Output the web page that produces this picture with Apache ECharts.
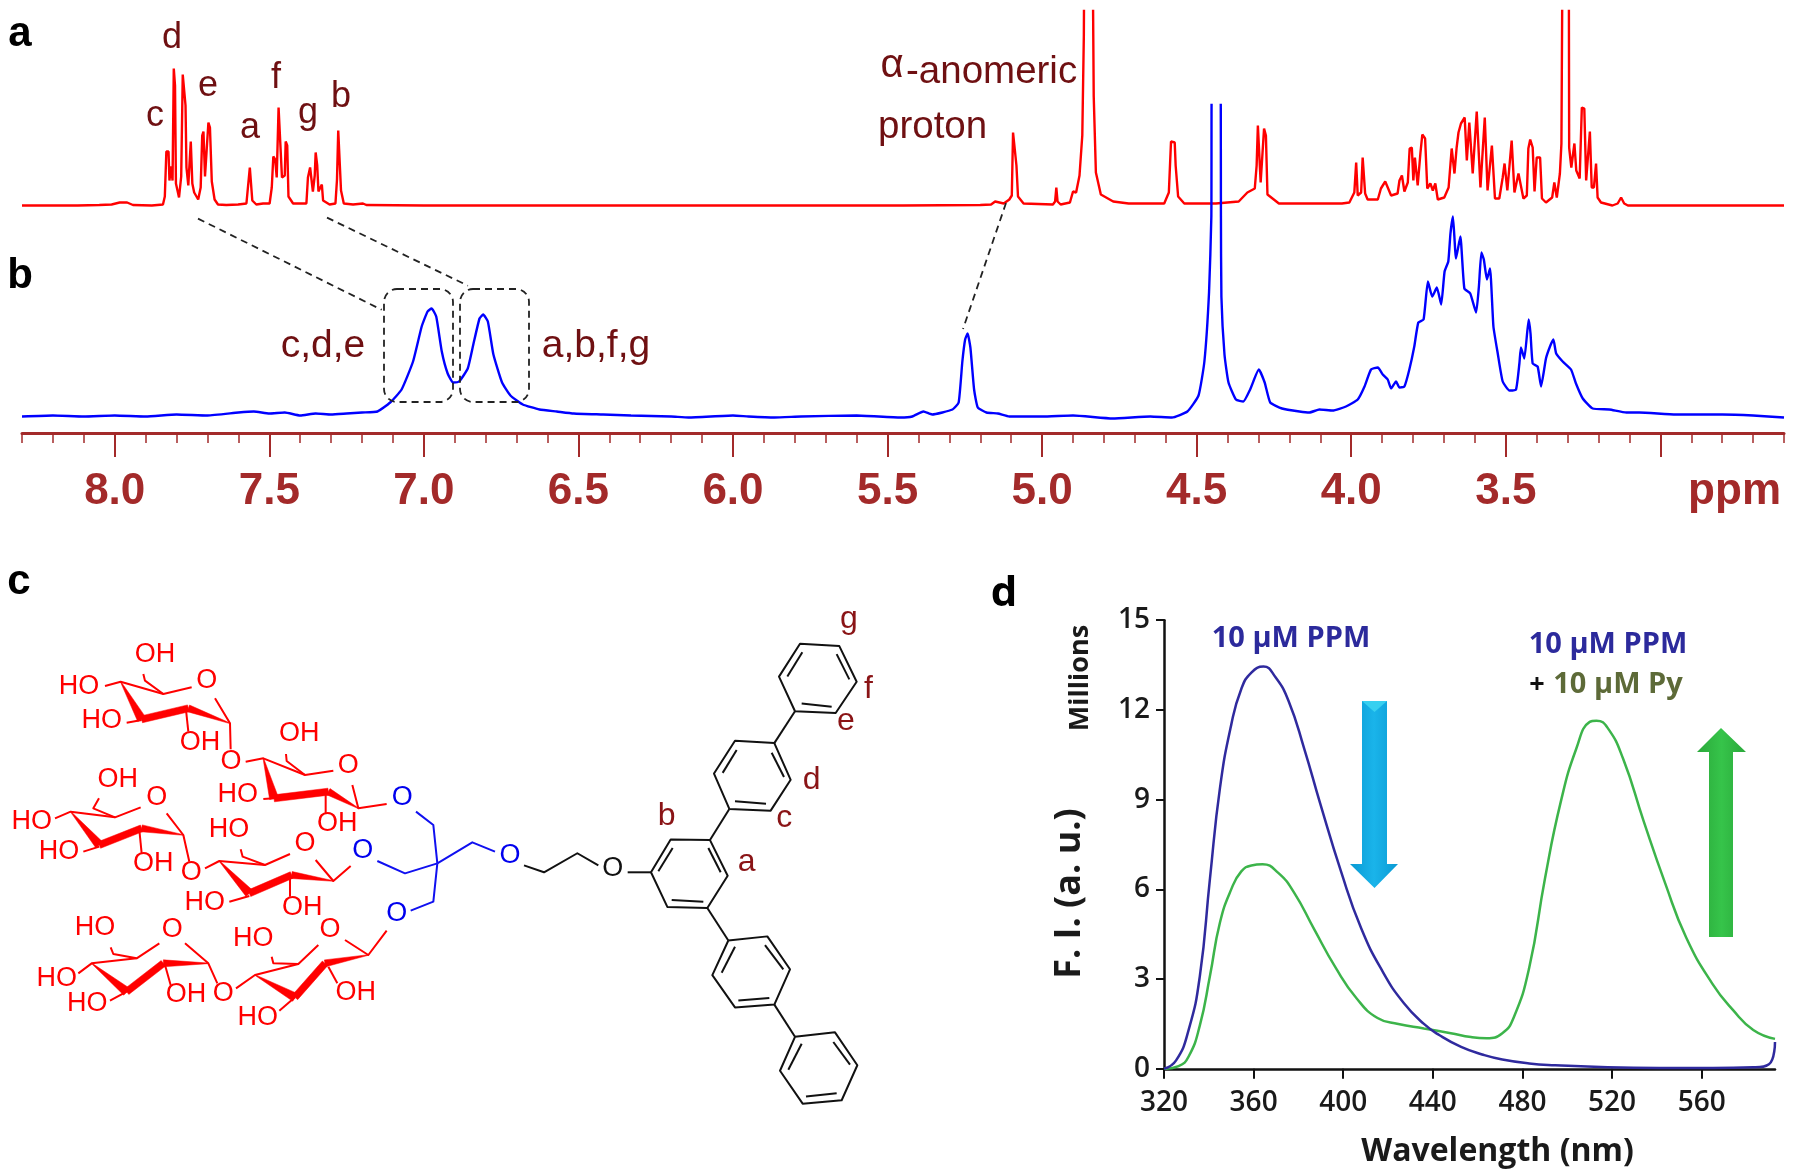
<!DOCTYPE html>
<html>
<head>
<meta charset="utf-8">
<style>html,body{margin:0;padding:0;background:#fff}#c{width:1800px;height:1174px}</style>
<script src="https://cdn.jsdelivr.net/npm/echarts@6/dist/echarts.min.js"></script>
</head>
<body>
<div id="c"></div>
<script>
// ---- Panel a: 1H NMR spectrum, [ppm, intensity]
const spectrumA = [[8.3,0],[8.12,0],[8.05,0.5],[8.01,1],[7.984,3],[7.96,3],[7.941,0.5],[7.88,0],[7.844,1],[7.838,9],[7.833,54],[7.826,54],[7.823,25],[7.818,39],[7.813,25],[7.809,137],[7.805,120],[7.802,22],[7.792,8],[7.785,29],[7.78,131],[7.776,131],[7.771,100],[7.768,38],[7.762,20],[7.754,64],[7.749,22],[7.743,13],[7.73,6],[7.722,18],[7.717,70],[7.713,74],[7.708,29],[7.704,30],[7.697,83],[7.692,78],[7.686,24],[7.677,6],[7.666,1],[7.639,0.5],[7.601,1],[7.574,2],[7.567,25],[7.563,38],[7.559,37],[7.555,5],[7.542,1],[7.52,2],[7.499,2],[7.492,18],[7.487,49],[7.481,46],[7.476,28],[7.47,98],[7.464,97],[7.459,28],[7.45,30],[7.447,64],[7.442,60],[7.438,9],[7.423,2],[7.38,2],[7.375,28],[7.368,38],[7.364,36],[7.359,14],[7.353,30],[7.35,53],[7.345,40],[7.341,14],[7.335,12],[7.33,21],[7.326,5],[7.305,1],[7.286,2],[7.281,26],[7.277,75],[7.272,74],[7.268,15],[7.259,2],[7.229,1],[7.197,2],[7.186,0.5],[7.0,0],[6.5,0],[6.0,0],[5.45,0],[5.2,0.5],[5.165,1],[5.152,4],[5.124,2],[5.106,6],[5.098,10],[5.094,73],[5.088,73],[5.083,40],[5.078,9],[5.06,2],[4.965,1],[4.958,4],[4.954,18],[4.95,4],[4.94,1],[4.91,3],[4.9,14],[4.89,13],[4.879,30],[4.87,70],[4.865,170],[4.861,400],[4.84,400],[4.833,109],[4.826,33],[4.81,11],[4.77,4],[4.72,2],[4.605,2],[4.59,13],[4.583,64],[4.579,64],[4.571,63],[4.568,40],[4.56,9],[4.54,2],[4.438,2],[4.364,4],[4.336,13],[4.312,17],[4.306,40],[4.302,80],[4.297,78],[4.293,23],[4.288,25],[4.282,77],[4.276,70],[4.271,11],[4.234,2],[4.03,2],[4.006,3],[3.99,13],[3.984,43],[3.979,10],[3.968,13],[3.963,48],[3.955,12],[3.947,6],[3.914,6],[3.904,17],[3.89,24],[3.871,10],[3.85,12],[3.844,25],[3.836,30],[3.828,14],[3.817,23],[3.811,57],[3.804,58],[3.799,25],[3.794,48],[3.785,20],[3.776,53],[3.77,71],[3.761,67],[3.754,17],[3.744,22],[3.736,15],[3.728,22],[3.72,6],[3.699,8],[3.685,18],[3.675,57],[3.666,32],[3.659,58],[3.653,73],[3.645,82],[3.633,88],[3.626,45],[3.618,83],[3.607,32],[3.594,94],[3.582,18],[3.568,88],[3.559,15],[3.545,60],[3.535,7],[3.521,7],[3.51,28],[3.504,42],[3.495,15],[3.481,65],[3.472,13],[3.459,32],[3.453,32],[3.443,7],[3.432,10],[3.427,57],[3.421,66],[3.413,58],[3.407,14],[3.4,48],[3.389,48],[3.383,7],[3.37,3],[3.35,8],[3.343,23],[3.335,8],[3.325,32],[3.32,62],[3.316,62],[3.314,400],[3.297,400],[3.295,58],[3.288,38],[3.278,62],[3.272,35],[3.261,27],[3.254,98],[3.246,97],[3.24,25],[3.228,74],[3.222,18],[3.215,18],[3.208,42],[3.203,8],[3.192,3],[3.155,0],[3.138,2],[3.127,8],[3.117,2],[3.105,0],[2.9,0],[2.6,0]];

// ---- Panel b: 1H NMR spectrum, [ppm, intensity]
const spectrumB = [[8.3,0],[8.2,1],[8.1,0],[8.0,1],[7.9,0],[7.8,2],[7.7,1],[7.6,4],[7.55,5],[7.5,3],[7.45,4],[7.4,1],[7.35,3],[7.3,2],[7.25,3],[7.2,4],[7.15,5],[7.109,14],[7.072,27],[7.035,55],[7.007,90],[6.988,105],[6.975,108],[6.96,100],[6.942,65],[6.923,43],[6.905,34],[6.886,35],[6.858,48],[6.84,72],[6.82,98],[6.808,102],[6.793,95],[6.775,62],[6.747,34],[6.72,21],[6.68,12],[6.626,7],[6.57,5],[6.515,3],[6.42,2],[6.33,1],[6.2,0],[6.144,-1],[6.0,1],[5.95,0],[5.866,-1],[5.78,0],[5.6,1],[5.458,-1],[5.42,0],[5.384,5],[5.356,2],[5.29,7],[5.27,14],[5.258,55],[5.249,77],[5.241,83],[5.232,69],[5.22,27],[5.208,9],[5.18,4],[5.143,3],[5.106,0],[5.0,0],[4.9,1],[4.772,-2],[4.65,0],[4.58,-1],[4.53,5],[4.494,21],[4.475,55],[4.46,124],[4.4525,200],[4.451,340],[4.423,340],[4.4215,200],[4.42,120],[4.41,62],[4.397,34],[4.373,17],[4.349,15],[4.327,27],[4.299,47],[4.28,34],[4.262,14],[4.224,8],[4.1675,5],[4.135,4],[4.103,7],[4.06,6],[4.017,10],[3.979,17],[3.957,30],[3.936,47],[3.914,49],[3.898,42],[3.882,37],[3.871,28],[3.855,35],[3.844,29],[3.828,30],[3.812,47],[3.796,70],[3.783,94],[3.766,97],[3.752,135],[3.738,120],[3.723,129],[3.709,112],[3.698,145],[3.686,155],[3.679,183],[3.671,200],[3.661,158],[3.647,180],[3.634,128],[3.615,123],[3.596,104],[3.587,130],[3.579,164],[3.571,157],[3.561,137],[3.551,148],[3.54,90],[3.526,63],[3.51,35],[3.488,26],[3.467,27],[3.456,53],[3.451,69],[3.44,58],[3.426,97],[3.42,83],[3.413,53],[3.397,50],[3.386,30],[3.37,58],[3.357,70],[3.346,77],[3.337,63],[3.316,55],[3.289,47],[3.273,33],[3.251,18],[3.219,8],[3.165,7],[3.11,4],[3.068,4],[2.95,2],[2.8,2],[2.7,1],[2.6,-1]];

// ---- Panel d: fluorescence, [nm, millions]
const ppmEmission = [[320,0],[325.4,0.28],[331,1.3],[336,3.1],[340.5,6.35],[345,9.4],[350,11.5],[354.5,12.7],[359,13.25],[364.4,13.45],[369.7,13.1],[375.6,12.3],[382.6,10.7],[389.6,8.9],[399,6.6],[408,4.7],[417.6,3.25],[427,2.2],[436,1.5],[443,1.12],[452.6,0.73],[462,0.48],[471,0.31],[483,0.18],[494.6,0.12],[518,0.05],[541,0.03],[565,0.03],[583,0.05],[590,0.15],[592.7,0.9]];
const ppmPyEmission = [[320,0],[326.5,0.09],[331,0.41],[336,1.45],[340.5,3.1],[345,4.9],[350,6.0],[354.5,6.6],[359,6.8],[364,6.84],[371,6.55],[378,5.9],[387,4.67],[396.6,3.38],[406,2.35],[415.3,1.7],[424.6,1.5],[436,1.35],[448,1.19],[457,1.06],[464,1.02],[471,1.19],[476,1.7],[483,3.38],[490,6.35],[497,8.9],[504,10.7],[510,11.6],[513,11.64],[518,11.4],[525,10.35],[534,8.3],[543.7,6.2],[553,4.4],[564.7,2.85],[574,1.96],[583,1.3],[592.7,1.0]];

// ---- tick values
const nmrMajorTicks = [8.0,7.5,7.0,6.5,6.0,5.5,5.0,4.5,4.0,3.5,3.0];
const nmrLabelTicks = [8.0,7.5,7.0,6.5,6.0,5.5,5.0,4.5,4.0,3.5];
const nmrMinorTicks = [8.3,8.2,8.1,7.9,7.8,7.7,7.6,7.4,7.3,7.2,7.1,6.9,6.8,6.7,6.6,6.4,6.3,6.2,6.1,5.9,5.8,5.7,5.6,5.4,5.3,5.2,5.1,4.9,4.8,4.7,4.6,4.4,4.3,4.2,4.1,3.9,3.8,3.7,3.6,3.4,3.3,3.2,3.1,2.9,2.8,2.7,2.6];
const wavelengthTicks = [320,360,400,440,480,520,560];

// ---- annotation text
const MAROON = '#6f1012', AXIS_BROWN = '#a32a2a', SANS = '"Liberation Sans",Arial,sans-serif', OPEN = '"Open Sans",sans-serif';
const peakLabels = [['c',155,116],['d',172,38],['e',208,86],['a',250,128],['f',276,78],['g',308,113],['b',341,97]];

// ---- chemical structure drawing (sketch coordinates, not chart data)
const F3 = [0,560,3,3], F4 = [450,590,3,2.887];
const fx = (f,p)=>[f[0]+p[0]/f[2], f[1]+p[1]/f[3]];
const redBonds = [
 [[315,378],[362,365],[490,402],[575,382]],[[645,415],[690,490],[692,568]],[[490,402],[435,362],[430,342]],[[380,488],[425,480]],[[558,450],[565,515]],
 [[737,605],[790,595],[915,645],[1000,632]],[[1057,675],[1075,745],[1160,732]],[[915,645],[860,603],[858,582]],[[790,717],[822,715]],[[977,700],[977,760]],
 [[165,775],[212,755],[345,772],[422,742]],[[500,760],[550,825],[568,905]],[[345,772],[280,745],[297,715]],[[250,875],[298,860]],[[418,810],[425,880]],
 [[615,925],[658,903],[795,915],[870,882]],[[947,900],[1000,963],[1052,918]],[[795,915],[728,890],[722,868]],[[688,1025],[748,1008]],[[870,950],[870,1010]],
 [[235,1240],[275,1210],[410,1195],[478,1150]],[[555,1150],[625,1210],[652,1270]],[[410,1195],[340,1182],[332,1162]],[[330,1322],[380,1295]],[[495,1215],[512,1275]],
 [[708,1285],[765,1245],[895,1212],[955,1155]],[[1035,1140],[1105,1185],[1160,1112]],[[895,1212],[820,1210],[815,1190]],[[838,1352],[885,1312]],[[985,1220],[1012,1270]]
];
const ringFronts = [
 [[362,365],[425,478],[565,445],[690,490]],
 [[790,595],[822,715],[985,695],[1075,745]],
 [[212,755],[298,855],[425,805],[550,825]],
 [[658,903],[748,1000],[875,945],[1000,963]],
 [[275,1210],[380,1295],[490,1210],[625,1210]],
 [[765,1245],[885,1312],[975,1210],[1105,1185]]
];
const blueBonds = [[[1248,755],[1300,795],[1312,910]],[[1132,903],[1215,940],[1312,910]],[[1232,1052],[1300,1025],[1312,910]],[[1312,910],[1417,847],[1485,875]]];
const blackBonds = [
 [[222,795],[282,815],[382,760],[445,795]],[[533,815],[603,815]],
 [[603,815],[662,720],[780,722],[833,825],[772,918],[652,915],[603,815]],[[625,812],[668,745]],[[775,745],[812,815]],[[665,895],[760,900]],
 [[780,722],[838,632]],
 [[838,632],[792,530],[855,435],[973,442],[1022,548],[962,637],[838,632]],[[818,528],[860,462]],[[965,470],[1002,540]],[[855,610],[948,617]],
 [[973,442],[1035,350]],
 [[1035,350],[987,250],[1050,155],[1168,162],[1220,265],[1157,355],[1035,350]],[[1012,250],[1057,180]],[[1160,185],[1198,258]],[[1055,328],[1145,337]],
 [[772,918],[835,1012]],
 [[835,1012],[787,1112],[855,1205],[973,1197],[1020,1095],[952,1000],[835,1012]],[[815,1105],[855,1030]],[[945,1025],[1000,1095]],[[865,1185],[958,1178]],
 [[973,1197],[1035,1290]],
 [[1035,1290],[990,1388],[1058,1483],[1175,1473],[1222,1372],[1155,1277],[1035,1290]],[[1015,1385],[1055,1310]],[[1150,1305],[1200,1370]],[[1068,1462],[1160,1453]]
];
const redAtoms = [['OH',465,283],['HO',237,380],['HO',305,483],['OH',600,548],['O',620,362],['O',693,605],['OH',898,522],['HO',713,705],['O',1045,617],['OH',1012,790],['OH',353,658],['HO',95,785],['HO',177,875],['OH',460,912],['O',470,712],['O',574,938],['HO',687,808],['O',915,852],['HO',614,1028],['OH',907,1042],['HO',285,1103],['O',517,1108],['HO',170,1257],['HO',262,1332],['OH',558,1303],['O',670,1302],['HO',760,1135],['O',990,1108],['OH',1067,1297],['HO',773,1372]];
const blueAtoms = [['O',1207,713],['O',1088,872],['O',1190,1060]];
const structureLabels = [['g',1197,85],['f',1255,285],['e',1188,380],['d',1085,550],['c',1003,660],['b',650,652],['a',890,785]];

function txt(text,x,y,font,fill,align){
  return {type:'text',x:x,y:y,silent:true,z:20,style:{text:text,font:font,fill:fill,align:align||'center',verticalAlign:'middle'}};
}
function poly(f,pts,color,w){ return {type:'polyline',silent:true,z:10,shape:{points:pts.map(p=>fx(f,p))},style:{stroke:color,lineWidth:w,fill:null,lineJoin:'round'}}; }
function dash(a,b){ return {type:'line',silent:true,z:10,shape:{x1:a[0],y1:a[1],x2:b[0],y2:b[1]},style:{stroke:'#222',lineWidth:1.8,lineDash:[7,5]}}; }
function taper(a,b,wa,wb){
  const dx=b[0]-a[0],dy=b[1]-a[1],l=Math.hypot(dx,dy),nx=-dy/l,ny=dx/l;
  return {type:'polygon',silent:true,z:10,shape:{points:[[a[0]+nx*wa/2,a[1]+ny*wa/2],[b[0]+nx*wb/2,b[1]+ny*wb/2],[b[0]-nx*wb/2,b[1]-ny*wb/2],[a[0]-nx*wa/2,a[1]-ny*wa/2]]},style:{fill:'#ff0000',stroke:'#ff0000',lineWidth:0.5,lineJoin:'round'}};
}
const graphics = [];
// panel letters
[['a',20,34],['b',20,276],['c',19,582]].forEach(t=>graphics.push(txt(t[0],t[1],t[2],'bold 42px '+SANS,'#000')));
graphics.push(txt('d',1004,594,'bold 42px '+OPEN,'#000'));
// NMR annotations
peakLabels.forEach(t=>graphics.push(txt(t[0],t[1],t[2],'36px '+SANS,MAROON)));
graphics.push(txt('\u03b1',892,66,'40px '+SANS,MAROON));
graphics.push(txt('-anomeric',906,72,'38.5px '+SANS,MAROON,'left'));
graphics.push(txt('proton',878,127,'38.5px '+SANS,MAROON,'left'));
graphics.push(txt('c,d,e',323,346,'39px '+SANS,MAROON));
graphics.push(txt('a,b,f,g',596,346,'39px '+SANS,MAROON));
graphics.push(dash([198,218.6],[381.7,309.8]),dash([327,217.6],[467.9,285.7]),dash([1006,203],[963,329]));
[[384,289,69,113],[460,289,69,113]].forEach(r=>graphics.push({type:'rect',silent:true,z:10,shape:{x:r[0],y:r[1],width:r[2],height:r[3],r:13},style:{fill:null,stroke:'#222',lineWidth:1.8,lineDash:[7,5]}}));
// structure
redBonds.forEach(b=>graphics.push(poly(F3,b,'#ff0000',2)));
ringFronts.forEach(r=>{const p=r.map(q=>fx(F3,q));graphics.push(taper(p[0],p[1],0.6,9),taper(p[1],p[2],7,7),taper(p[2],p[3],7,0.6));});
blueBonds.forEach(b=>graphics.push(poly(F3,b,'#1010f0',2)));
blackBonds.forEach(b=>graphics.push(poly(F4,b,'#111',2)));
redAtoms.forEach(a=>{const p=fx(F3,[a[1],a[2]]);graphics.push(txt(a[0],p[0],p[1],'27px '+SANS,'#ff0000'));});
blueAtoms.forEach(a=>{const p=fx(F3,[a[1],a[2]]);graphics.push(txt(a[0],p[0],p[1],'27px '+SANS,'#0000ee'));});
{const p=fx(F4,[180,768]);graphics.push(txt('O',p[0],p[1],'27px '+SANS,'#0000ee'));}
{const p=fx(F4,[488,805]);graphics.push(txt('O',p[0],p[1],'27px '+SANS,'#111'));}
structureLabels.forEach(a=>{const p=fx(F4,[a[1],a[2]]);graphics.push(txt(a[0],p[0],p[1],'32px '+SANS,'#8a1416'));});
// panel d annotations
graphics.push(txt('10 \u00b5M PPM',1291,639,'bold 29px '+OPEN,'#2c2a9c'));
graphics.push(txt('10 \u00b5M PPM',1608,645,'bold 29px '+OPEN,'#2c2a9c'));
graphics.push(txt('+',1537,685,'bold 27px '+OPEN,'#111'));
graphics.push(txt('10 \u00b5M Py',1618,685,'bold 29px '+OPEN,'#5d6a38'));
graphics.push({type:'text',x:1080,y:678,rotation:Math.PI/2,silent:true,z:20,style:{text:'Millions',font:'bold 27px '+OPEN,fill:'#1a1a1a',align:'center',verticalAlign:'middle'}});
graphics.push({type:'polygon',silent:true,z:5,shape:{points:[[1362,701],[1387,701],[1387,864],[1398,864],[1374.5,888],[1350,864],[1362,864]]},style:{fill:new echarts.graphic.LinearGradient(0,0,1,0,[{offset:0,color:'#0a9ad4'},{offset:0.5,color:'#1ab4ea'},{offset:1,color:'#0a9ad4'}])}});
graphics.push({type:'polygon',silent:true,z:5,shape:{points:[[1374.5,701],[1362,701],[1374.5,712],[1387,701]]},style:{fill:'#38d0f0'}});
graphics.push({type:'polygon',silent:true,z:5,shape:{points:[[1709,937],[1733,937],[1733,752],[1746,752],[1721,728],[1697,752],[1709,752]]},style:{fill:new echarts.graphic.LinearGradient(0,0,1,0,[{offset:0,color:'#2aa83a'},{offset:0.5,color:'#36c44a'},{offset:1,color:'#2aa83a'}])}});

const option = {
  animation:false,
  backgroundColor:'#fff',
  grid:[
    {left:22,right:16,top:11,height:200.5,outerBoundsMode:'none'},
    {left:22,right:16,top:105,height:328,outerBoundsMode:'none'},
    {left:1164,right:25,top:620.2,height:448.6,outerBoundsMode:'none'}
  ],
  xAxis:[
    {type:'value',gridIndex:0,min:2.6,max:8.3,inverse:true,show:false},
    {type:'value',gridIndex:1,position:'bottom',min:2.6,max:8.3,inverse:true,splitLine:{show:false},
      axisLine:{show:true,lineStyle:{color:AXIS_BROWN,width:3},onZero:false},
      axisTick:{show:true,length:24,inside:false,customValues:nmrMajorTicks,lineStyle:{color:AXIS_BROWN,width:2}},
      axisLabel:{show:true,customValues:nmrLabelTicks,margin:37,fontFamily:SANS,fontWeight:'bold',fontSize:44,color:AXIS_BROWN,formatter:v=>Number(v).toFixed(1)},
      name:'ppm',nameLocation:'start',nameGap:-3,nameTextStyle:{fontFamily:SANS,fontWeight:'bold',fontSize:44,color:AXIS_BROWN,align:'right',verticalAlign:'top',padding:[37,0,0,0]}},
    {type:'value',gridIndex:1,position:'bottom',min:2.6,max:8.3,inverse:true,splitLine:{show:false},
      axisLine:{show:false,onZero:false},
      axisTick:{show:true,length:10,customValues:nmrMinorTicks,lineStyle:{color:AXIS_BROWN,width:1.5}},
      axisLabel:{show:false}},
    {type:'value',gridIndex:2,position:'bottom',min:320,max:592.7,splitLine:{show:false},
      axisLine:{show:true,lineStyle:{color:'#111',width:2.5},onZero:false},
      axisTick:{show:true,length:10,customValues:wavelengthTicks,lineStyle:{color:'#111',width:2}},
      axisLabel:{show:true,customValues:wavelengthTicks,margin:20,fontFamily:OPEN,fontWeight:600,fontSize:28,color:'#1a1a1a'},
      name:'Wavelength (nm)',nameLocation:'middle',nameGap:67,nameTextStyle:{fontFamily:OPEN,fontWeight:'bold',fontSize:32,color:'#1a1a1a',padding:[0,0,0,56]}}
  ],
  yAxis:[
    {type:'value',gridIndex:0,min:-6,max:194.5,show:false},
    {type:'value',gridIndex:1,min:-16.5,max:311.5,show:false},
    {type:'value',gridIndex:2,min:0,max:15,interval:3,splitLine:{show:false},
      axisLine:{show:true,lineStyle:{color:'#111',width:2.5}},
      axisTick:{show:true,length:8,lineStyle:{color:'#111',width:2}},
      axisLabel:{margin:14,fontFamily:OPEN,fontWeight:600,fontSize:28,color:'#1a1a1a'},
      name:'F. I. (a. u.)',nameLocation:'middle',nameGap:76,nameRotate:90,nameTextStyle:{fontFamily:OPEN,fontWeight:'bold',fontSize:36,color:'#1a1a1a',padding:[0,98,0,0]}}
  ],
  series:[
    {name:'a',type:'line',xAxisIndex:0,yAxisIndex:0,data:spectrumA,showSymbol:false,smooth:false,lineStyle:{color:'#ff0000',width:2.4},z:3},
    {name:'b',type:'line',xAxisIndex:1,yAxisIndex:1,data:spectrumB,showSymbol:false,smooth:0.15,lineStyle:{color:'#0000ff',width:2.4},z:4},
    {name:'10 \u00b5M PPM + 10 \u00b5M Py',type:'line',xAxisIndex:3,yAxisIndex:2,data:ppmPyEmission,showSymbol:false,smooth:0.5,lineStyle:{color:'#3cb44a',width:2.5},z:3},
    {name:'10 \u00b5M PPM',type:'line',xAxisIndex:3,yAxisIndex:2,data:ppmEmission,showSymbol:false,smooth:0.5,lineStyle:{color:'#2f2a9e',width:2.5},z:4}
  ],
  graphic:{elements:graphics}
};
const chart = echarts.init(document.getElementById('c'),null,{renderer:'canvas'});
chart.setOption(option);
</script>
</body>
</html>
